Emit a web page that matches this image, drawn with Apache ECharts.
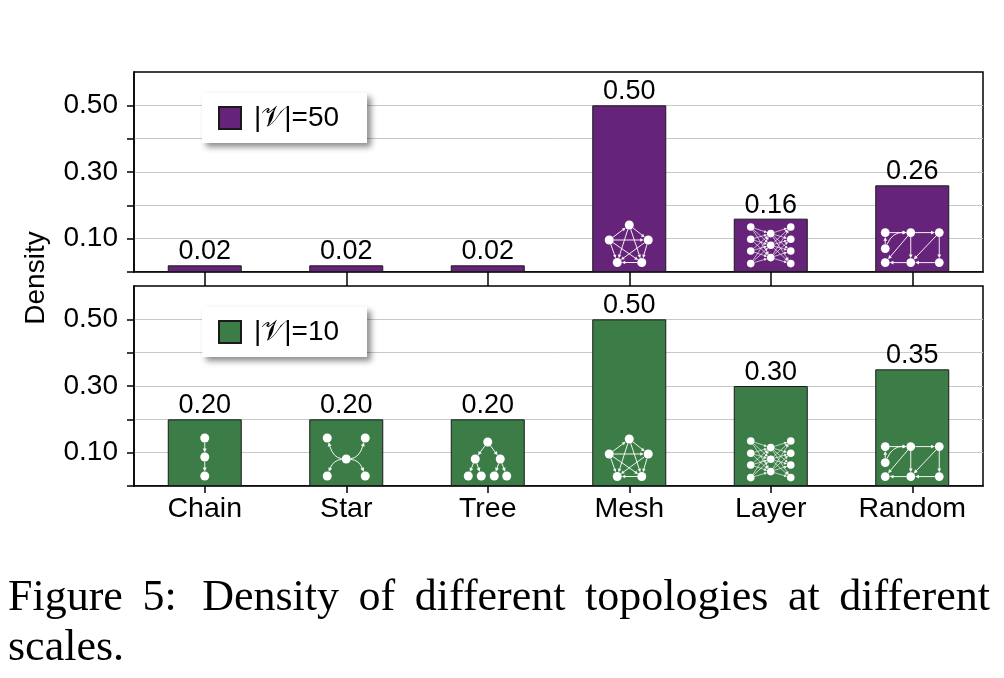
<!DOCTYPE html>
<html><head><meta charset="utf-8">
<script src="https://cdn.jsdelivr.net/npm/echarts@6/dist/echarts.min.js"></script>
<style>html,body{margin:0;padding:0;background:#fff}#c{width:1004px;height:678px}</style>
</head><body><div id="c"></div>
<script>
const categories = ['Chain', 'Star', 'Tree', 'Mesh', 'Layer', 'Random'];
const density50 = [0.02, 0.02, 0.02, 0.50, 0.16, 0.26];
const density10 = [0.20, 0.20, 0.20, 0.50, 0.30, 0.35];
const legend50 = '|𝒱|=50';
const legend10 = '|𝒱|=10';
const yTickValues = [0, 0.1, 0.2, 0.3, 0.4, 0.5];
const yLabelValues = [0.1, 0.3, 0.5];
const iconsTop = ['Mesh', 'Layer', 'Random'];
const iconsBottom = ['Chain', 'Star', 'Tree', 'Mesh', 'Layer', 'Random'];
const yAxisName = 'Density';
const captionLine1 = 'Figure 5: Density of different topologies at different';
const captionLine2 = 'scales.';

const FONT = 'Liberation Sans, Arial, Helvetica, DejaVu Sans, sans-serif';
const SERIF = 'Liberation Serif, Times New Roman, serif';
const PURPLE = '#66237A';
const GREEN = '#3C7C46';

// Decorative topology glyphs drawn inside bars (offsets relative to bar base centre)
const TOPO = {
  Chain: { r: 4.5, head: 4, lw: 1, nodes: [[0,-48],[0,-29],[0,-10]], edges: [[0,1],[1,2]] },
  Star: { r: 4.5, head: 4, lw: 1, nodes: [[0,-27],[-19,-48],[19,-48],[-19,-10],[19,-10]],
    edges: [[0,1,[-13,-28]],[0,2,[13,-28]],[0,3,[-13,-26]],[0,4,[13,-26]]] },
  Tree: { r: 4.5, head: 4, lw: 1, nodes: [[0,-44],[-12.5,-27],[12.5,-27],[-19.5,-10],[-6.5,-10],[6.5,-10],[19,-10]],
    edges: [[0,1],[0,2],[1,3],[1,4],[2,5],[2,6]] },
  Mesh: { r: 4.5, head: 3.5, lw: 1, nodes: [[0,-47],[-20,-32],[19,-32],[-12,-9.5],[12.5,-9.5]],
    edges: [[1,0],[0,2],[0,3],[0,4],[1,2],[1,3],[1,4],[2,3],[2,4],[4,3]] },
  Layer: { r: 3.8, head: 3, lw: 0.7,
    nodes: [[-20,-45],[-20,-32.7],[-20,-21],[-20,-8.4],[0,-38.4],[0,-26.7],[0,-14.4],[20,-45],[20,-32.7],[20,-21],[20,-8.4]],
    edges: [[0,4],[0,5],[0,6],[1,4],[1,5],[1,6],[2,4],[2,5],[2,6],[3,4],[3,5],[3,6],
            [4,7],[4,8],[4,9],[4,10],[5,7],[5,8],[5,9],[5,10],[6,7],[6,8],[6,9],[6,10]] },
  Random: { r: 4.4, head: 3.8, lw: 1,
    nodes: [[-27,-39.4],[-1.5,-39.4],[27,-39.4],[-27,-23.4],[-27,-9.4],[-1.5,-9.4],[27,-9.4]],
    edges: [[0,1],[1,2],[1,5],[2,5],[2,6],[5,4],[6,5],[3,0],[1,4],[3,1,[-20,-40]]] }
};

function edgeShapes(a, b, r, head, lw, ctrl) {
  const out = [];
  let sdx, sdy, edx, edy;
  if (ctrl) {
    const d1x = ctrl[0]-a[0], d1y = ctrl[1]-a[1], l1 = Math.hypot(d1x, d1y);
    sdx = d1x/l1; sdy = d1y/l1;
    const d2x = b[0]-ctrl[0], d2y = b[1]-ctrl[1], l2 = Math.hypot(d2x, d2y);
    edx = d2x/l2; edy = d2y/l2;
  } else {
    const dx = b[0]-a[0], dy = b[1]-a[1], l = Math.hypot(dx, dy);
    sdx = edx = dx/l; sdy = edy = dy/l;
  }
  const sx = a[0]+sdx*r, sy = a[1]+sdy*r;
  const tx = b[0]-edx*r, ty = b[1]-edy*r;
  const ex = tx-edx*head*0.8, ey = ty-edy*head*0.8;
  const style = { stroke: '#fff', lineWidth: lw, fill: null, opacity: 0.92 };
  if (ctrl) {
    out.push({ type: 'bezierCurve', shape: { x1: sx, y1: sy, x2: ex, y2: ey, cpx1: ctrl[0], cpy1: ctrl[1] }, style });
  } else {
    out.push({ type: 'line', shape: { x1: sx, y1: sy, x2: ex, y2: ey }, style });
  }
  const bx = tx-edx*head, by = ty-edy*head, px = -edy*head*0.5, py = edx*head*0.5;
  out.push({ type: 'polygon', shape: { points: [[tx,ty],[bx+px,by+py],[bx-px,by-py]] }, style: { fill: '#fff', opacity: 0.95 } });
  return out;
}

function renderIcons(params, api) {
  const idx = api.value(0);
  const t = TOPO[categories[idx]];
  const base = api.coord([idx, 0]);
  const pts = t.nodes.map(n => [base[0]+n[0], base[1]+n[1]]);
  const children = [];
  t.edges.forEach(e => {
    const ctrl = e[2] ? [base[0]+e[2][0], base[1]+e[2][1]] : null;
    edgeShapes(pts[e[0]], pts[e[1]], t.r, t.head, t.lw, ctrl).forEach(s => children.push(s));
  });
  pts.forEach(p => children.push({ type: 'circle', shape: { cx: p[0], cy: p[1], r: t.r }, style: { fill: '#fff' } }));
  return { type: 'group', children };
}

// Justified caption (first line spread across the figure width, like LaTeX)
function captionGraphics() {
  const font = '44px ' + SERIF;
  const ctx = document.createElement('canvas').getContext('2d');
  ctx.font = font;
  const words = captionLine1.split(' ');
  const widths = words.map(w => ctx.measureText(w).width);
  const x0 = 8, x1 = 990;
  const total = widths.reduce((s, w) => s + w, 0);
  const weights = words.slice(0, -1).map(w => /[:.]$/.test(w) ? 1.3 : 1);
  const wsum = weights.reduce((s, w) => s + w, 0);
  const free = Math.max(0, (x1 - x0) - total);
  const out = [];
  let x = x0;
  words.forEach((w, i) => {
    out.push({ type: 'text', x, y: 620, style: { text: w, font, fill: '#000', textAlign: 'left', textVerticalAlign: 'bottom' } });
    x += widths[i] + (i < weights.length ? free * weights[i] / wsum : 0);
  });
  out.push({ type: 'text', x: x0, y: 670, style: { text: captionLine2, font, fill: '#000', textAlign: 'left', textVerticalAlign: 'bottom' } });
  return out;
}

const chart = echarts.init(document.getElementById('c'), null, { renderer: 'canvas' });

function yAxis(gi) {
  return {
    type: 'value', gridIndex: gi, min: 0, max: 0.6, interval: 0.1,
    axisLine: { show: true, lineStyle: { color: '#000', width: 1.5 } },
    axisTick: { show: true, customValues: yTickValues, length: 7, lineStyle: { color: '#000', width: 1.5 } },
    axisLabel: { customValues: yLabelValues, formatter: v => v.toFixed(2), fontSize: 28, fontFamily: FONT, color: '#000', margin: 16 },
    splitLine: { show: true, lineStyle: { color: '#c8c8c8', width: 1 } }
  };
}
function xAxis(gi, showLabel, tickLen) {
  return {
    type: 'category', gridIndex: gi, data: categories,
    axisLine: { show: true, lineStyle: { color: '#000', width: 1.5 } },
    axisTick: { show: true, alignWithLabel: true, interval: 0, length: tickLen, lineStyle: { color: '#000', width: 1.5 } },
    axisLabel: { show: showLabel, interval: 0, hideOverlap: false, fontSize: 28.5, fontFamily: FONT, color: '#000', margin: 9 }
  };
}
function legend(name, top) {
  return {
    data: [name], left: 202, top: top, itemWidth: 22, itemHeight: 22, itemGap: 0,
    padding: [11, 28, 11, 16], backgroundColor: '#fff', borderWidth: 0,
    shadowColor: 'rgba(0,0,0,0.45)', shadowBlur: 6, shadowOffsetX: 4, shadowOffsetY: 4,
    icon: 'rect', selectedMode: false,
    textStyle: { fontSize: 28, fontFamily: FONT, color: '#000', padding: [0, 0, 0, 8] }
  };
}
function barSeries(name, data, color, gi) {
  return {
    name, type: 'bar', xAxisIndex: gi, yAxisIndex: gi, data, barWidth: 74,
    itemStyle: { color, borderColor: '#1a1a1a', borderWidth: 1 },
    label: { show: true, position: 'top', distance: 0, fontSize: 27, fontFamily: FONT, color: '#000', formatter: p => p.value.toFixed(2) },
    z: 2
  };
}
function iconSeries(list, gi) {
  return {
    type: 'custom', xAxisIndex: gi, yAxisIndex: gi, renderItem: renderIcons,
    data: list.map(c => [categories.indexOf(c), 0]), z: 5, silent: true
  };
}

chart.setOption({
  animation: false,
  backgroundColor: '#fff',
  grid: [
    { left: 134, top: 72, width: 849, height: 200, show: true, borderColor: '#000', borderWidth: 1.5, backgroundColor: 'transparent' },
    { left: 134, top: 286, width: 849, height: 200, show: true, borderColor: '#000', borderWidth: 1.5, backgroundColor: 'transparent' }
  ],
  xAxis: [xAxis(0, false, 14), xAxis(1, true, 7)],
  yAxis: [yAxis(0), yAxis(1)],
  legend: [legend(legend50, 93), legend(legend10, 307)],
  graphic: [{ type: 'text', x: 36, y: 278, rotation: Math.PI / 2, style: { text: yAxisName, font: '28px ' + FONT, fill: '#000', textAlign: 'center', textVerticalAlign: 'middle' } }]
    .concat(captionGraphics()),
  series: [
    barSeries(legend50, density50, PURPLE, 0),
    barSeries(legend10, density10, GREEN, 1),
    iconSeries(iconsTop, 0),
    iconSeries(iconsBottom, 1)
  ]
});
</script></body></html>
